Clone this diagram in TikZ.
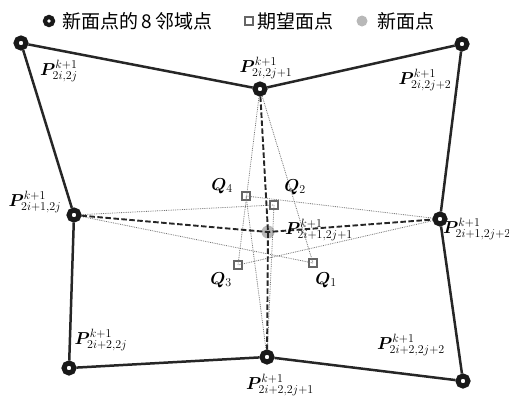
\documentclass[tikz,border=0pt]{standalone}
\usepackage{amsmath,bm}
\usepackage{fontspec}
\newfontfamily\cjk{Noto Sans CJK SC}
\usetikzlibrary{positioning}
\tikzset{
nbpt/.style={circle,draw=black!90,line width=5pt,fill=white,minimum size=10pt,inner sep=0pt},
qpt/.style={rectangle,draw=black!60,line width=2pt,fill=white,minimum size=8.5pt,inner sep=0pt},
newpt/.style={circle,fill=black!28,minimum size=13pt,inner sep=0pt},
border/.style={draw=black!85,line width=2.5pt},
crossln/.style={draw=black!85,line width=1.9pt,dash pattern=on 5.5pt off 2.5pt},
thinln/.style={draw=black!55,line width=0.8pt,densely dotted},
plab/.style={font=\LARGE,inner sep=0pt},
legtext/.style={font=\cjk\fontsize{19}{22}\selectfont,inner sep=0pt,anchor=west}
}

\begin{document}
\begin{tikzpicture}[x=1pt,y=-1pt]
\useasboundingbox (0,0) rectangle (509,405);
% legend
\node[nbpt,minimum size=8pt,line width=4.2pt] (lg1) at (49,21) {};
\node[legtext] (lt1) at (62,21) {新面点的\,8\,邻域点};
\node[qpt] (lg2) at (249,21) {};
\node[legtext] (lt2) at (257,21) {期望面点};
\node[newpt,minimum size=11pt] (lg3) at (362,21) {};
\node[legtext] (lt3) at (377,21) {新面点};
% neighbour points
\node[nbpt] (p00) at (21,43) {};
\node[nbpt] (p01) at (260,89) {};
\node[nbpt] (p02) at (462,44) {};
\node[nbpt] (p10) at (74,215) {};
\node[nbpt] (p12) at (440,219) {};
\node[nbpt] (p20) at (69,368) {};
\node[nbpt] (p21) at (267,357) {};
\node[nbpt] (p22) at (463,381) {};
\node[newpt] (c) at (268,232) {};
% expected face points
\node[qpt] (q1) at (313,263) {};
\node[qpt] (q2) at (274,205) {};
\node[qpt] (q3) at (238,265) {};
\node[qpt] (q4) at (246,196) {};
% thin lines
\draw[thinln] (p10) -- (q2.center) (p10) -- (q1.center);
\draw[thinln] (p12) -- (q4.center) (p12) -- (q3.center);
\draw[thinln] (p01) -- (q1.center) (p01) -- (q3.center);
\draw[thinln] (p21) -- (q2.center) (p21) -- (q4.center);
% dashed cross
\draw[crossln] (p01) -- (c.center) -- (p21);
\draw[crossln] (p10) -- (c.center) -- (p12);
% outer frame
\draw[border] (p00) -- (p01) -- (p02);
\draw[border] (p00) -- (p10) -- (p20);
\draw[border] (p02) -- (p12) -- (p22);
\draw[border] (p20) -- (p21) -- (p22);
% labels
\node[plab] (l00) at (59,71) {$\bm{P}^{k+1}_{2i,2j}$};
\node[plab] (l01) at (266,68) {$\bm{P}^{k+1}_{2i,2j+1}$};
\node[plab] (l02) at (425,80) {$\bm{P}^{k+1}_{2i,2j+2}$};
\node[plab] (l10) at (35,202) {$\bm{P}^{k+1}_{2i+1,2j}$};
\node[plab] (l12) at (477,229) {$\bm{P}^{k+1}_{2i+1,2j+2}$};
\node[plab] (l20) at (101,340) {$\bm{P}^{k+1}_{2i+2,2j}$};
\node[plab] (l21) at (280,385) {$\bm{P}^{k+1}_{2i+2,2j+1}$};
\node[plab] (l22) at (411,345) {$\bm{P}^{k+1}_{2i+2,2j+2}$};
\node[plab] (lc) at (319,230) {$\bm{P}^{k+1}_{2i+1,2j+1}$};
\node[plab] (lq1) at (326,280) {$\bm{Q}_1$};
\node[plab] (lq2) at (295,187) {$\bm{Q}_2$};
\node[plab] (lq3) at (221,280) {$\bm{Q}_3$};
\node[plab] (lq4) at (222,186) {$\bm{Q}_4$};
\end{tikzpicture}
\end{document}
